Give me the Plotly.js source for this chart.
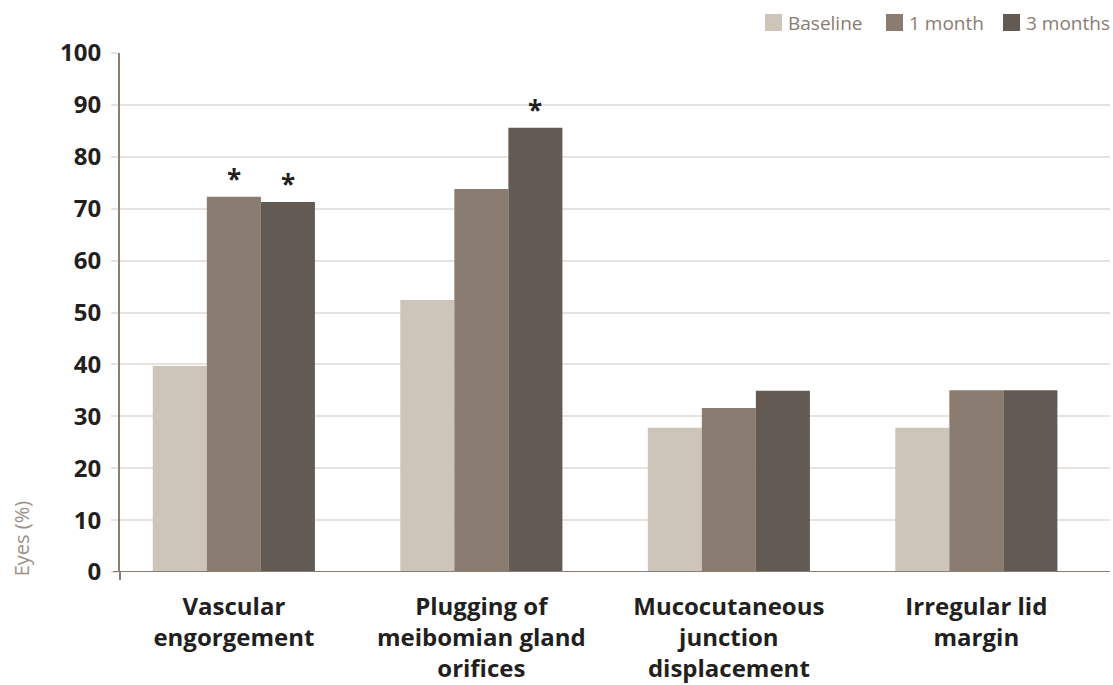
<!DOCTYPE html>
<html><head><meta charset="utf-8">
<script src="https://cdn.plot.ly/plotly-3.0.1.min.js"></script>
<style>html,body{margin:0;padding:0;background:#fff}#chart{width:1113px;height:685px}</style>
</head><body><div id="chart"></div>
<script>
const categories = ["Vascular<br>engorgement", "Plugging of<br>meibomian gland<br>orifices", "Mucocutaneous<br>junction<br>displacement", "Irregular lid<br>margin"];
const seriesNames = ["Baseline", "1 month", "3 months"];
const baseline = [39.7, 52.4, 27.8, 27.8];
const oneMonth = [72.3, 73.8, 31.6, 35.0];
const threeMonths = [71.3, 85.6, 34.9, 35.0];
const colors = ["#cdc4ba", "#8a7c71", "#635a53"];
const yTicks = [0,10,20,30,40,50,60,70,80,90,100];
// significance markers: [categoryIndex, seriesIndex]
const stars = [[0,1],[0,2],[1,2]];

const allSeries = [baseline, oneMonth, threeMonths];
const traces = allSeries.map((vals, i) => ({
  type: 'bar', x: [0,1,2,3], y: vals, name: seriesNames[i], showlegend: false,
  marker: {color: colors[i]}, hoverinfo: 'skip'
}));

const L = 120, W = 990, B = 572, H = 519;
const px = v => (v - L) / W;
const py = v => (B - v) / H;

const groupW = 0.655, barW = groupW/3;
const annotations = stars.map(([c, s]) => ({
  x: c - groupW/2 + barW*(s+0.5), y: allSeries[s][c], xref: 'x', yref: 'y',
  text: '<b>*</b>', showarrow: false, yanchor: 'bottom', yshift: -2,
  font: {family: 'Open Sans', size: 26, color: '#231f20'}
}));
annotations.push({
  xref: 'paper', yref: 'y', x: px(21), y: 6.5, xanchor: 'center', yanchor: 'middle',
  text: 'Eyes (%)', textangle: -90,
  showarrow: false, font: {family: 'Open Sans', size: 20, color: '#9b8f86'}
});

// manual legend
const legendSq = [765, 886, 1003];
const shapes = [
  {type: 'line', xref: 'paper', yref: 'y', x0: px(113), x1: 1, y0: 0, y1: 0,
   line: {color: '#8a7d73', width: 2}},
  {type: 'line', xref: 'paper', yref: 'paper', x0: 0, x1: 0, y0: 0, y1: py(580),
   line: {color: '#8a7d73', width: 2}}
];
seriesNames.forEach((n, i) => {
  shapes.push({type: 'rect', xref: 'paper', yref: 'paper',
    x0: px(legendSq[i]), x1: px(legendSq[i] + 17), y0: py(31), y1: py(14),
    fillcolor: colors[i], line: {width: 0}});
  annotations.push({xref: 'paper', yref: 'paper', x: px(legendSq[i] + 21), y: py(22.5),
    xanchor: 'left', yanchor: 'middle', text: n, showarrow: false,
    font: {family: 'Open Sans', size: 19, color: '#8a7c71'}});
});

const layout = {
  width: 1113, height: 685,
  margin: {l: L, r: 1113 - L - W, t: B - H, b: 685 - B, pad: 0},
  paper_bgcolor: '#fff', plot_bgcolor: '#fff',
  barmode: 'group', bargap: 1 - groupW, bargroupgap: 0,
  showlegend: false,
  xaxis: {range: [-0.46, 3.54], tickvals: [0,1,2,3], ticktext: categories,
    showgrid: false, zeroline: false, showline: false, ticks: '',
    tickfont: {family: 'Open Sans', size: 24, color: '#231f20', weight: 'bold'},
    ticklabelstandoff: 18,
    fixedrange: true},
  yaxis: {range: [0, 100], tickvals: yTicks, ticktext: yTicks.map(v => '<b>'+v+'</b>'),
    showgrid: true, gridcolor: '#e6e2df', gridwidth: 2,
    zeroline: false, showline: true, linecolor: '#8a7d73', linewidth: 2,
    ticks: 'outside', ticklen: 7, tickcolor: '#e6e2df', tickwidth: 2,
    tickfont: {family: 'Open Sans', size: 24, color: '#231f20'}, ticklabelstandoff: 5,
    fixedrange: true},
  annotations: annotations,
  shapes: shapes
};
Plotly.newPlot('chart', traces, layout, {staticPlot: true});
</script></body></html>
